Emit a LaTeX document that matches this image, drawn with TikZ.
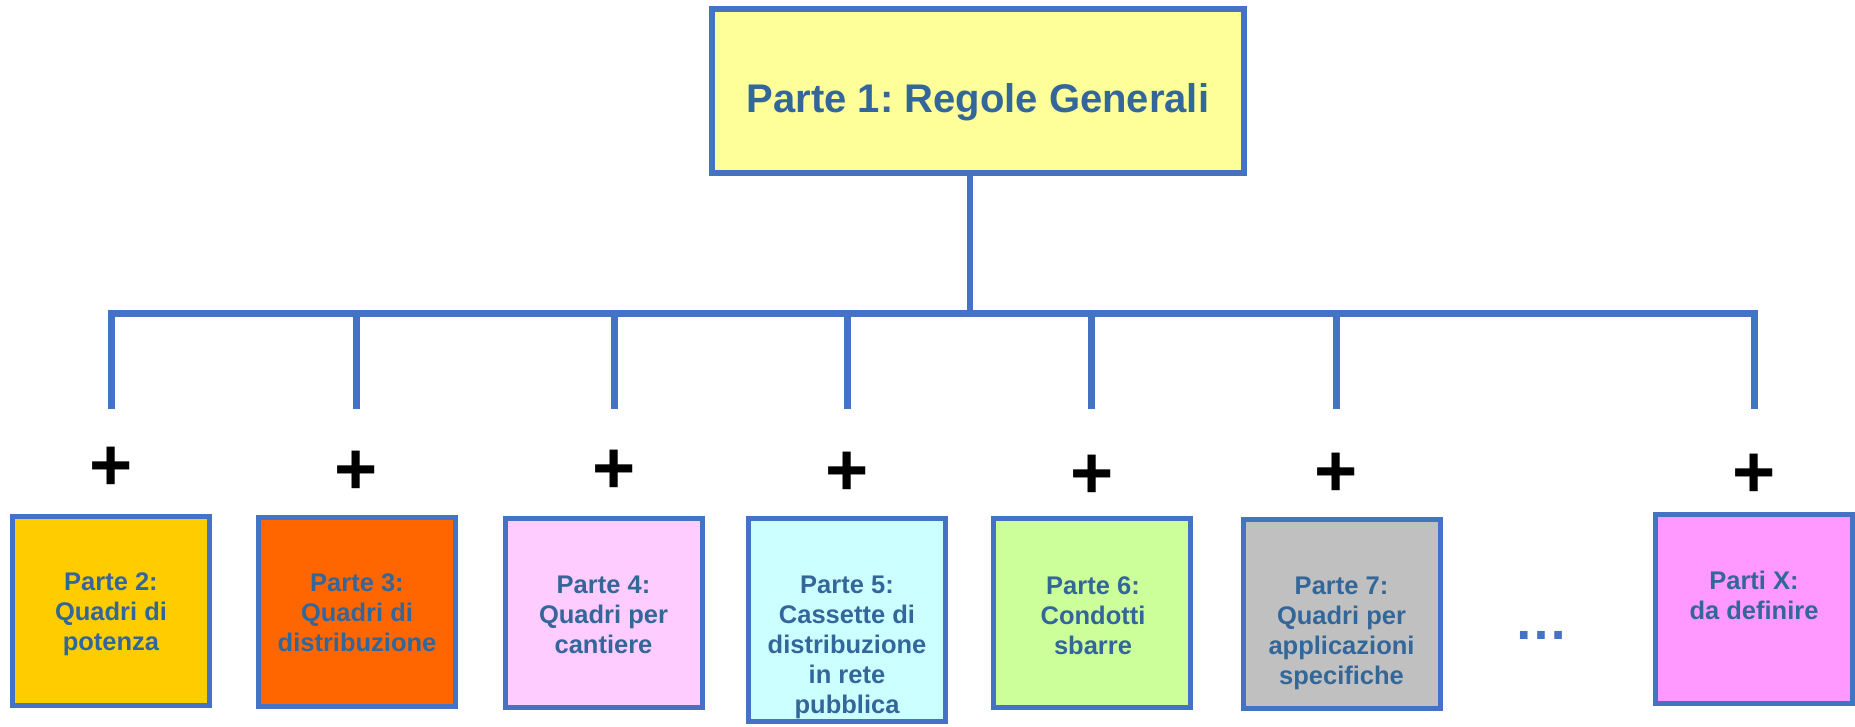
\documentclass[tikz,border=0pt]{standalone}
\usepackage{fontspec}
\setmainfont{Liberation Sans}
\frenchspacing
\definecolor{lineblue}{HTML}{4472C4}
\definecolor{txtblue}{HTML}{336699}
\definecolor{c1}{HTML}{FFFF99}
\definecolor{c2}{HTML}{FFCC00}
\definecolor{c3}{HTML}{FF6600}
\definecolor{c4}{HTML}{FFCCFF}
\definecolor{c5}{HTML}{CCFFFF}
\definecolor{c6}{HTML}{CCFF99}
\definecolor{c7}{HTML}{C0C0C0}
\definecolor{cx}{HTML}{FF99FF}
\begin{document}
\begin{tikzpicture}[x=1pt,y=-1pt,
  conn/.style={draw=lineblue, line width=7pt},
  topbox/.style={draw=lineblue, line width=6pt, minimum width=532pt, minimum height=164pt, inner sep=0pt},
  part/.style={draw=lineblue, line width=5pt, minimum width=197pt, minimum height=189pt, inner sep=0pt},
  titletext/.style={font=\bfseries\fontsize{40}{48}\selectfont, text=txtblue, anchor=base, inner sep=0pt},
  lbl/.style={font=\bfseries\fontsize{25.5}{30}\selectfont, text=txtblue, align=center, anchor=north, inner sep=0pt},
  plussign/.style={font=\bfseries\fontsize{74}{74}\selectfont, inner sep=0pt},
  dotstext/.style={font=\bfseries\fontsize{54}{54}\selectfont, text=lineblue, anchor=base, inner sep=0pt}]
\useasboundingbox (0,0) rectangle (1855,726);

% top box
\node[topbox, fill=c1] (p1) at (978,91) {};
\node[titletext] (t1) at (978,112) {Parte 1: Regole Generali};

% bus
\coordinate (bus) at (970,316);
\coordinate (bl) at (107.5,313);
\coordinate (br) at (1757.5,313);
\draw[conn, line width=6pt] (p1.south -| bus) -- (bus);
\draw[conn] (bl) -- (br);

% drops
\foreach \n/\x in {2/111,3/356,4/614,5/847,6/1091,7/1336,x/1754}{
  \coordinate (b\n) at (\x,310);
  \coordinate (d\n) at (\x,409);
  \draw[conn] (b\n) -- (d\n);
}

% plus signs
\node[plussign] (plus2) at (111,469) {+};
\node[plussign] (plus3) at (356,473) {+};
\node[plussign] (plus4) at (614,472) {+};
\node[plussign] (plus5) at (847,474) {+};
\node[plussign] (plus6) at (1092,477) {+};
\node[plussign] (plus7) at (1336,475) {+};
\node[plussign] (plusx) at (1754,476) {+};

% part boxes
\node[part, fill=c2] (p2) at (111,611) {};
\node[part, fill=c3] (p3) at (357,611.5) {};
\node[part, fill=c4] (p4) at (603.5,613) {};
\node[part, fill=c5, minimum height=203pt] (p5) at (847,620) {};
\node[part, fill=c6] (p6) at (1092,612.5) {};
\node[part, fill=c7] (p7) at (1341.5,613.5) {};
\node[part, fill=cx] (px) at (1754,609) {};

% labels
\node[lbl] (l2) at (111,572) {Parte 2:\\Quadri di\\potenza};
\node[lbl] (l3) at (357,573) {Parte 3:\\Quadri di\\distribuzione};
\node[lbl] (l4) at (603.5,576) {Parte 4:\\Quadri per\\cantiere};
\node[lbl] (l5) at (847,576) {Parte 5:\\Cassette di\\distribuzione\\in rete\\pubblica};
\node[lbl] (l6) at (1093,576) {Parte 6:\\Condotti\\sbarre};
\node[lbl] (l7) at (1341.5,577) {Parte 7:\\Quadri per\\applicazioni\\specifiche};
\node[lbl] (lx) at (1754,571) {Parti X:\\da definire};

% ellipsis
\node[dotstext] (dots) at (1541.5,639) {…};
\end{tikzpicture}
\end{document}
